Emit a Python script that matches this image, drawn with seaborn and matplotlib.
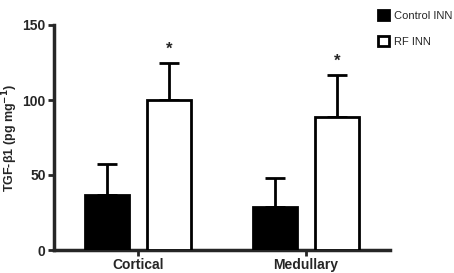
import pandas as pd
import matplotlib
matplotlib.use("Agg")
import matplotlib.pyplot as plt
import seaborn as sns

# data
regions = ["Cortical", "Medullary"]
groups = ["Control INN", "RF INN"]
control_mean = [36.8, 29.0]
control_sem = [20.6, 19.0]
rf_mean = [100.0, 88.8]
rf_sem = [24.5, 27.9]
y_ticks = [0, 50, 100, 150]

df = pd.DataFrame({
    "Region": regions * 2,
    "Group": [groups[0]] * 2 + [groups[1]] * 2,
    "Mean": control_mean + rf_mean,
    "SEM": control_sem + rf_sem,
})

sns.set_theme(style="ticks")
plt.rcParams["font.family"] = ["Liberation Sans", "DejaVu Sans"]
plt.rcParams["font.weight"] = "bold"

fig = plt.figure(figsize=(4.54, 2.73), dpi=100)
ax = fig.add_axes([54 / 454, 23 / 273, 336 / 454, 225 / 273])

ax = sns.barplot(
    data=df, x="Region", y="Mean", hue="Group",
    palette={groups[0]: "black", groups[1]: "white"},
    width=0.74, gap=0.3, edgecolor="black", linewidth=2,
    errorbar=None, ax=ax, zorder=3,
)

# one-sided error bars from bar positions
for cont, grp in zip(ax.containers, groups):
    sub = df[df["Group"] == grp]
    xs = [p.get_x() + p.get_width() / 2 for p in cont.patches]
    ax.errorbar(xs, sub["Mean"], yerr=[[0] * len(xs), sub["SEM"]],
                fmt="none", ecolor="black", elinewidth=2, capsize=7.5,
                capthick=2, zorder=2)
    if grp == groups[1]:
        for x, m, s in zip(xs, sub["Mean"], sub["SEM"]):
            ax.text(x, m + s + 4, "*", ha="center", va="bottom",
                    fontsize=12, fontweight="bold")

ax.set_xlim(-0.5, 1.5)
ax.set_ylim(0, 150)
ax.set_yticks(y_ticks)
ax.set_xlabel("")
ax.set_ylabel("TGF-β1 (pg mg$^{\\mathbf{-1}}$)", fontsize=9, fontweight="bold")
ax.yaxis.set_label_coords(-0.1, 0.5)
ax.tick_params(axis="both", labelsize=10, width=2, length=4, direction="out",
               pad=2)
for lab in ax.get_xticklabels() + ax.get_yticklabels():
    lab.set_fontweight("bold")
sns.despine(ax=ax)
ax.spines["left"].set_linewidth(2.5)
ax.spines["bottom"].set_linewidth(2.5)

handles, labels = ax.get_legend_handles_labels()
ax.get_legend().remove()
leg = fig.legend(handles, labels, loc="upper left",
                 bbox_to_anchor=(368 / 454, 1.0), frameon=False,
                 fontsize=8, handlelength=1.0, handleheight=1.0,
                 labelspacing=1.4, handletextpad=0.4)
for t in leg.get_texts():
    t.set_fontweight("normal")

fig.savefig("out.png", dpi=100)
